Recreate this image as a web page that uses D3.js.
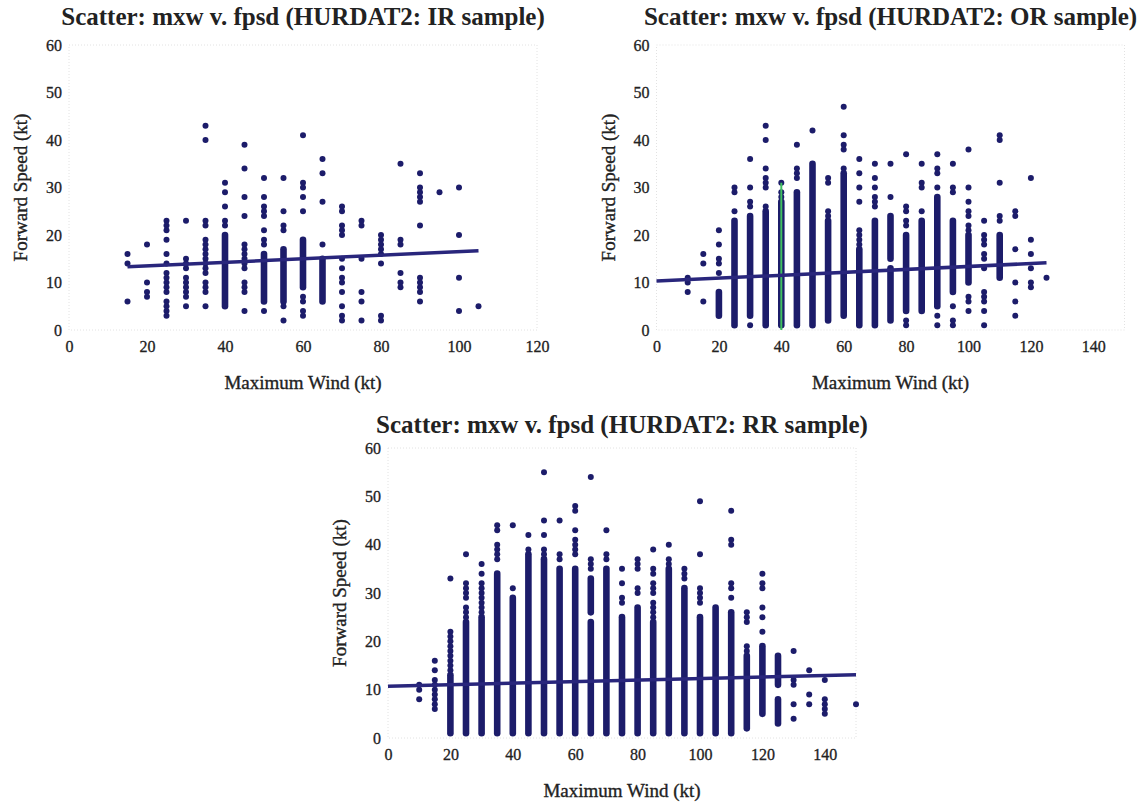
<!DOCTYPE html>
<html>
<head>
<meta charset="utf-8">
<script src="https://d3js.org/d3.v7.min.js"></script>
<style>
  body { margin: 0; background: #fff; }
  svg text { font-family: "Liberation Serif", "Times New Roman", serif; fill: #222; }
  .title { font-size: 25px; font-weight: bold; }
  .axis-title { font-size: 19px; stroke: #222; stroke-width: 0.35px; }
</style>
</head>
<body>
<script>

// ---- IR sample ----
var irWind = [15, 20, 25, 30, 35, 40, 45, 50, 55, 60, 65, 70, 75, 80, 85, 90, 95, 100, 105];
var irSpeed = [
  [16, 14, 6],
  [18, 10, 8, 7],
  [23, 22, 21, 19, 16, 14, 12, 11, 10, 9, 8, 6, 5, 4, 3],
  [23, 15, 14, 13, 11, 10, 9, 8, 7, 5],
  [43, 40, 23, 22, 19, 18, 17, 16, 15, 14, 13, 12, 10, 9, 8, 5],
  [31, 29, 26, 23, 22],
  [39, 34, 28, 24, 18, 17, 16, 15, 14, 13, 10, 9, 8, 4],
  [32, 28, 26, 25, 24, 21, 19, 18, 4],
  [32, 25, 22, 21, 5, 2],
  [41, 31, 30, 28, 25, 7, 6, 4, 3],
  [36, 33, 27, 18],
  [26, 25, 22, 21, 20, 15, 13, 11, 10, 8, 5, 3, 2],
  [23, 22, 15, 8, 6, 2],
  [20, 19, 18, 17, 16, 14, 3, 2],
  [35, 19, 18, 12, 10, 9],
  [33, 30, 29, 28, 27, 22, 11, 10, 9, 8, 6],
  [29],
  [30, 20, 11, 4],
  [5]
];
// solid stretches of stacked points: [wind, low, high]
var irRuns = [[40, 5, 20], [50, 6, 16], [55, 6, 17], [60, 9, 19], [65, 6, 15]];
var irFit = [[15, 13.3], [105, 16.7]];
var irTicks = [0, 20, 40, 60, 80, 100, 120];

// ---- OR sample ----
var orWind = [10, 15, 20, 25, 30, 35, 40, 45, 50, 55, 60, 65, 70, 75, 80, 85, 90, 95, 100, 105, 110, 115, 120, 125];
var orSpeed = [
  [11, 10, 8],
  [16, 14, 6],
  [21, 18, 15, 14, 12],
  [30, 29, 25],
  [36, 30, 27, 26, 1],
  [43, 40, 34, 32, 31, 30, 26],
  [31, 29, 28],
  [39, 34, 33, 32],
  [42],
  [32, 31, 25, 24],
  [47, 41, 39, 38, 34],
  [36, 33, 30, 27, 21, 20, 19, 18],
  [35, 32, 30, 28, 27, 26],
  [35, 28],
  [37, 26, 25, 23, 22, 2, 1],
  [35, 31, 30, 25],
  [37, 34, 33, 30, 3, 1],
  [35, 30, 29, 5, 2, 1],
  [38, 30, 27, 25, 24, 22, 21, 7, 6, 4],
  [23, 20, 19, 18, 16, 15, 13, 8, 7, 6, 4, 1],
  [41, 40, 31, 24, 23],
  [25, 24, 17, 10, 6, 3],
  [32, 19, 16, 13, 10, 9],
  [11]
];
var orRuns = [[20, 3, 8], [25, 1, 23], [30, 3, 24], [35, 1, 25], [40, 1, 27], [45, 1, 29],
  [50, 1, 35], [55, 2, 23], [60, 3, 33], [65, 1, 17], [70, 1, 23], [75, 15, 24], [75, 2, 13],
  [80, 4, 20], [85, 4, 23], [90, 5, 28], [95, 8, 23], [100, 10, 20], [110, 11, 20]];
var orFit = [[0, 10.3], [125, 14.15]];
var orMark = [[40, 0], [40, 31]];
var orTicks = [0, 20, 40, 60, 80, 100, 120, 140];

// ---- RR sample ----
var rrWind = [10, 15, 20, 25, 30, 35, 40, 45, 50, 55, 60, 65, 70, 75, 80, 85, 90, 95, 100, 110, 115, 120, 130, 135, 140, 150];
var rrSpeed = [
  [11, 10, 8],
  [16, 14, 12, 11, 10, 9, 8, 7, 6],
  [33, 22, 21, 20, 19, 18, 17, 16, 15, 14],
  [38, 32, 31, 30, 29, 27, 26, 25],
  [36, 34, 32, 31, 30, 29, 28, 27, 26],
  [44, 43, 40, 39, 38, 37],
  [44, 31],
  [42, 39],
  [55, 45, 42, 39, 38],
  [45, 38, 37],
  [48, 47, 43, 41, 40, 39, 38],
  [54, 37, 36, 35],
  [43, 38, 37],
  [35, 32, 29, 28],
  [37, 36, 35, 31, 30],
  [39, 35, 34, 32, 31, 30, 28, 27, 26, 25],
  [40, 37, 36],
  [35, 34, 33],
  [49, 38, 31, 30, 29, 28],
  [47, 41, 40, 32, 31, 29],
  [26, 25, 24, 19, 18],
  [34, 32, 31, 27, 25, 22],
  [18, 12, 11, 7, 4],
  [14, 9, 7],
  [12, 8, 7, 6, 5],
  [7]
];
var rrRuns = [[20, 1, 13], [25, 1, 24], [30, 1, 25], [35, 1, 34], [40, 1, 29], [45, 1, 38],
  [50, 1, 37], [55, 1, 35], [60, 1, 35], [65, 26, 33], [65, 1, 24], [70, 1, 35], [75, 1, 25],
  [80, 1, 27], [85, 1, 24], [90, 1, 35], [95, 1, 31], [100, 1, 25], [105, 1, 27], [110, 1, 26],
  [115, 2, 17], [120, 5, 19], [125, 11, 17], [125, 3, 8]];
var rrFit = [[0, 10.7], [150, 13.1]];
var rrTicks = [0, 20, 40, 60, 80, 100, 120, 140];

var yTicks = [0, 10, 20, 30, 40, 50, 60];

var dotColor = '#1c1c6a',
    fitColor = '#29267c',
    r = 3;

var svg = d3.select('body').append('svg')
    .attr('width', 1147)
    .attr('height', 804);

// tick text: serif, a bit heavy like the blurry original
function styleTicks(a) {
  a.select('.domain').remove();
  a.selectAll('text')
   .style('font-family', '"Liberation Serif", "Times New Roman", serif')
   .style('font-size', '16px')
   .style('fill', '#222')
   .style('stroke', '#222')
   .style('stroke-width', '0.3px');
}

function drawPanel(p) {
  var g = svg.append('g')
      .attr('transform', 'translate(' + p.left + ',' + p.top + ')');

  //Scales
  var x = d3.scaleLinear().domain([0, p.xMax]).range([0, p.width]),
      y = d3.scaleLinear().domain([0, 60]).range([p.height, 0]);

  //faint frame
  g.append('rect')
   .attr('width', p.width)
   .attr('height', p.height)
   .attr('fill', 'none')
   .attr('stroke', '#e2e2e2')
   .attr('stroke-dasharray', '1,2');

  //Axes
  g.append('g')
   .attr('transform', 'translate(0,' + p.height + ')')
   .call(d3.axisBottom(x).tickValues(p.xTicks).tickSize(0).tickPadding(11))
   .call(styleTicks);

  g.append('g')
   .call(d3.axisLeft(y).tickValues(yTicks).tickSize(0).tickPadding(7))
   .call(styleTicks);

  //dense stretches
  g.append('g')
   .selectAll('line')
   .data(p.runs)
   .enter()
   .append('line')
   .attr('x1', function(d){ return x(d[0]); })
   .attr('x2', function(d){ return x(d[0]); })
   .attr('y1', function(d){ return y(d[1]); })
   .attr('y2', function(d){ return y(d[2]); })
   .attr('stroke', dotColor)
   .attr('stroke-width', 2 * r + 0.6)
   .attr('stroke-linecap', 'round');

  //points
  var pts = [];
  p.wind.forEach(function(w, i){
    p.speed[i].forEach(function(s){ pts.push([w, s]); });
  });

  g.append('g')
   .selectAll('circle')
   .data(pts)
   .enter()
   .append('circle')
   .attr('cx', function(d){ return x(d[0]); })
   .attr('cy', function(d){ return y(d[1]); })
   .attr('r', r)
   .attr('fill', dotColor);

  var line = d3.line()
      .x(function(d){ return x(d[0]); })
      .y(function(d){ return y(d[1]); });

  if (p.mark) {
    g.append('path')
     .datum(p.mark)
     .attr('d', line)
     .attr('stroke', '#3fc060')
     .attr('stroke-width', 2)
     .attr('fill', 'none');
  }

  //regression line
  g.append('path')
   .datum(p.fit)
   .attr('d', line)
   .attr('stroke', fitColor)
   .attr('stroke-width', 3.5)
   .attr('fill', 'none');

  //Titles
  g.append('text')
   .attr('class', 'title')
   .attr('x', p.width / 2)
   .attr('y', p.titleY)
   .attr('text-anchor', 'middle')
   .text(p.title);

  g.append('text')
   .attr('class', 'axis-title')
   .attr('x', p.width / 2)
   .attr('y', p.height + 59)
   .attr('text-anchor', 'middle')
   .text('Maximum Wind (kt)');

  g.append('text')
   .attr('class', 'axis-title')
   .attr('transform', 'translate(-42,' + (p.height / 2) + ') rotate(-90)')
   .attr('text-anchor', 'middle')
   .text('Forward Speed (kt)');
}

drawPanel({left: 69, top: 45, width: 468, height: 285, xMax: 120, xTicks: irTicks,
  wind: irWind, speed: irSpeed, runs: irRuns, fit: irFit, titleY: -20,
  title: 'Scatter: mxw v. fpsd (HURDAT2: IR sample)'});

drawPanel({left: 656.5, top: 45, width: 468, height: 285, xMax: 150, xTicks: orTicks,
  wind: orWind, speed: orSpeed, runs: orRuns, fit: orFit, mark: orMark, titleY: -20,
  title: 'Scatter: mxw v. fpsd (HURDAT2: OR sample)'});

drawPanel({left: 388, top: 448, width: 468, height: 290, xMax: 150, xTicks: rrTicks,
  wind: rrWind, speed: rrSpeed, runs: rrRuns, fit: rrFit, titleY: -15,
  title: 'Scatter: mxw v. fpsd (HURDAT2: RR sample)'});

</script>
</body>
</html>
